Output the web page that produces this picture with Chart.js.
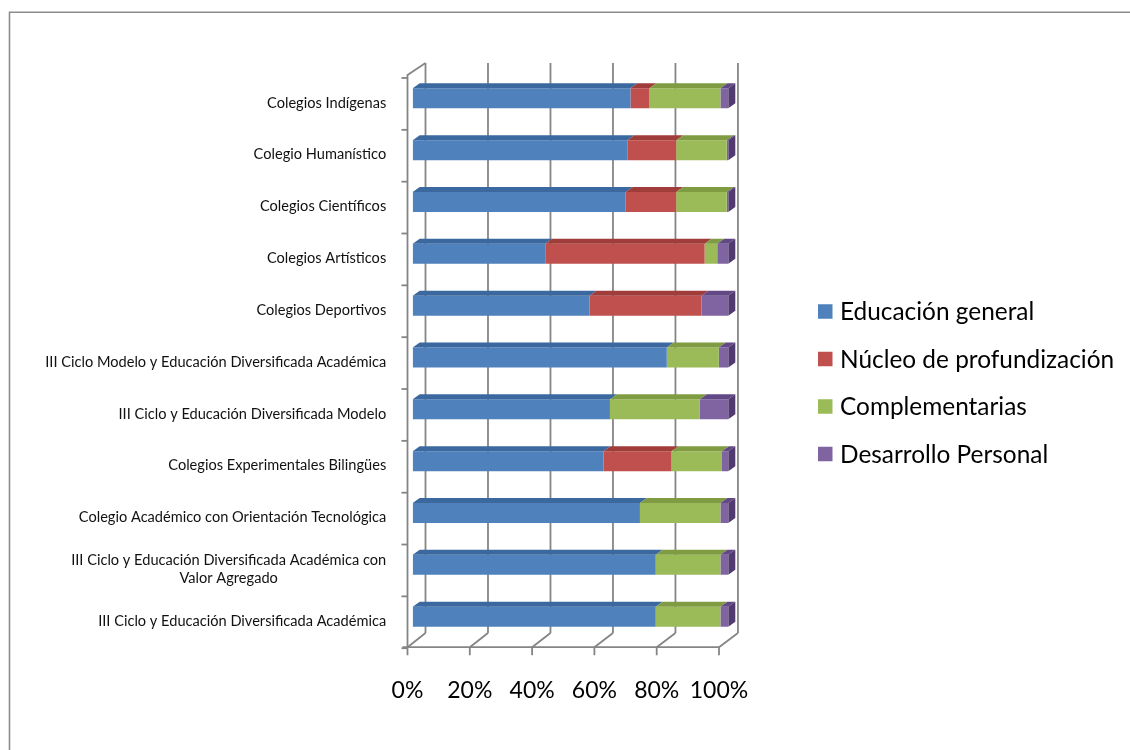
<!DOCTYPE html>
<html lang="es">
<head>
<meta charset="utf-8">
<title>Distribución del plan de estudios por modalidad</title>
<script src="https://cdn.jsdelivr.net/npm/chart.js@4.4.1/dist/chart.umd.min.js"></script>
<style>
  html, body { margin: 0; padding: 0; background: #ffffff; }
  #wrap { position: relative; width: 1130px; height: 750px; }
  canvas { display: block; }
</style>
</head>
<body>
<div id="wrap"><canvas id="chart" width="1130" height="750"></canvas></div>
<script>
// Modalidades (de arriba hacia abajo)
const categories = [
  'Colegios Indígenas',
  'Colegio Humanístico',
  'Colegios Científicos',
  'Colegios Artísticos',
  'Colegios Deportivos',
  'III Ciclo Modelo y Educación Diversificada Académica',
  'III Ciclo y Educación Diversificada Modelo',
  'Colegios Experimentales Bilingües',
  'Colegio Académico con Orientación Tecnológica',
  ['III Ciclo y Educación Diversificada Académica con', 'Valor Agregado'],
  'III Ciclo y Educación Diversificada Académica'
];

// Porcentaje del plan de estudios por componente
const educacionGeneral      = [69.0, 68.0, 67.5, 42.0, 56.0, 80.5, 62.5, 60.5, 72.0, 77.0, 77.0];
const nucleoProfundizacion  = [ 6.0, 15.5, 16.0, 50.5, 35.5,  0.0,  0.0, 21.5,  0.0,  0.0,  0.0];
const complementarias       = [22.5, 16.0, 16.0,  4.0,  0.0, 16.5, 28.5, 16.0, 25.5, 20.5, 20.5];
const desarrolloPersonal    = [ 2.5,  0.5,  0.5,  3.5,  8.5,  3.0,  9.0,  2.0,  2.5,  2.5,  2.5];

const seriesNames = ['Educación general', 'Núcleo de profundización', 'Complementarias', 'Desarrollo Personal'];
const xTickValues = [0, 20, 40, 60, 80, 100];

// Colores: cara frontal, cara superior y cara lateral de cada componente
const frontColors = ['#4f81bd', '#c0504d', '#9bbb59', '#8064a2'];
const topColors   = ['#3b689f', '#a03c3a', '#7f9c42', '#634886'];
const sideColors  = ['#2f5687', '#863130', '#6b8636', '#513a70'];

const FONT = 'Lato, "Open Sans", sans-serif';
const GRID = '#858585';

// Caja 3D: paredes, piso, rejilla, caras de las barras, rótulos y leyenda
const box3d = {
  id: 'box3d',
  beforeDatasetsDraw(chart) {
    const { ctx, chartArea: ca } = chart;
    const xs = chart.scales.x, ys = chart.scales.y;
    const L = xs.getPixelForValue(0);
    const frontX = v => L - 5.2 + (xs.getPixelForValue(v) - L) * 0.987;
    const backX  = v => L + 12.8 + (xs.getPixelForValue(v) - L) * 0.99;
    const frontTop = ca.top + 2.6, frontBottom = ca.bottom + 4.6;
    const backTop = ca.top - 9.4, backBottom = ca.bottom - 9.6;

    ctx.save();
    ctx.strokeStyle = GRID;
    ctx.lineWidth = 1.8;
    ctx.lineCap = 'butt';

    // pared izquierda
    ctx.beginPath();
    ctx.moveTo(frontX(0), frontBottom);
    ctx.lineTo(frontX(0), frontTop);
    ctx.lineTo(backX(0), backTop);
    ctx.stroke();

    // líneas de la pared del fondo
    xTickValues.forEach(v => {
      ctx.beginPath();
      ctx.moveTo(backX(v), backTop);
      ctx.lineTo(backX(v), backBottom);
      ctx.stroke();
    });

    // piso: borde frontal, diagonales y marcas
    ctx.beginPath();
    ctx.moveTo(frontX(0) - 5, frontBottom);
    ctx.lineTo(frontX(100), frontBottom);
    ctx.stroke();
    xTickValues.forEach(v => {
      ctx.beginPath();
      ctx.moveTo(frontX(v), frontBottom);
      ctx.lineTo(backX(v), backBottom);
      ctx.moveTo(frontX(v), frontBottom);
      ctx.lineTo(frontX(v), frontBottom + 8);
      ctx.stroke();
    });

    // marcas del eje de categorías en la pared izquierda
    const n = chart.data.labels.length;
    for (let k = 0; k <= n; k++) {
      const y = ys.getPixelForValue(k - 0.5) + 5.6;
      ctx.beginPath();
      ctx.moveTo(frontX(0) - 6, y);
      ctx.lineTo(frontX(0), y);
      ctx.stroke();
    }
    ctx.restore();
  },
  afterDatasetsDraw(chart) {
    const { ctx } = chart;
    const dx = 7, dy = 5;
    const n = chart.data.labels.length;
    ctx.save();
    for (let i = 0; i < n; i++) {
      let last = null;
      chart.data.datasets.forEach((ds, d) => {
        const el = chart.getDatasetMeta(d).data[i];
        if (!el) return;
        const p = el.getProps(['x', 'y', 'base', 'height'], true);
        const x0 = Math.min(p.base, p.x), x1 = Math.max(p.base, p.x);
        if (x1 - x0 < 0.01) return;
        const top = p.y - p.height / 2;
        ctx.fillStyle = topColors[d];
        ctx.beginPath();
        ctx.moveTo(x0, top);
        ctx.lineTo(x1, top);
        ctx.lineTo(x1 + dx, top - dy);
        ctx.lineTo(x0 + dx, top - dy);
        ctx.closePath();
        ctx.fill();
        last = { d, x1, top, bottom: p.y + p.height / 2 };
      });
      if (last) {
        ctx.fillStyle = sideColors[last.d];
        ctx.beginPath();
        ctx.moveTo(last.x1, last.top);
        ctx.lineTo(last.x1 + dx, last.top - dy);
        ctx.lineTo(last.x1 + dx, last.bottom - dy);
        ctx.lineTo(last.x1, last.bottom);
        ctx.closePath();
        ctx.fill();
      }
    }
    ctx.restore();
  },
  afterDraw(chart) {
    const { ctx, chartArea: ca } = chart;
    const xs = chart.scales.x, ys = chart.scales.y;
    const L = xs.getPixelForValue(0);
    const frontX = v => L - 5.2 + (xs.getPixelForValue(v) - L) * 0.987;
    ctx.save();

    // rótulos de categorías (líneas centradas entre sí, bloque alineado a la derecha)
    ctx.fillStyle = '#111111';
    ctx.font = '14.6px ' + FONT;
    ctx.textBaseline = 'middle';
    ctx.textAlign = 'center';
    const right = L - 26.5;
    chart.data.labels.forEach((lab, i) => {
      const lines = Array.isArray(lab) ? lab : [lab];
      const w = Math.max(...lines.map(s => ctx.measureText(s).width));
      const cx = right - w / 2;
      const lh = 17.5;
      const yc = ys.getPixelForValue(i) + 4.5;
      lines.forEach((s, j) => {
        ctx.fillText(s, cx, yc + (j - (lines.length - 1) / 2) * lh);
      });
    });

    // rótulos del eje de porcentajes
    ctx.fillStyle = '#000000';
    ctx.font = '23px ' + FONT;
    ctx.textAlign = 'center';
    xTickValues.forEach(v => {
      ctx.fillText(v + '%', frontX(v), ca.bottom + 48);
    });

    // leyenda
    const lx = 818, ly = 311.5, step = 47.5, sq = 14.5;
    ctx.font = '24.4px ' + FONT;
    ctx.textAlign = 'left';
    chart.data.datasets.forEach((ds, d) => {
      const y = ly + d * step;
      ctx.fillStyle = ds.backgroundColor;
      ctx.fillRect(lx, y - sq / 2, sq, sq);
      ctx.fillStyle = '#000000';
      ctx.fillText(ds.label, lx + 22, y + 1);
    });

    // marco exterior
    ctx.strokeStyle = '#8c8c8c';
    ctx.lineWidth = 1.6;
    ctx.beginPath();
    ctx.moveTo(9.5, chart.height);
    ctx.lineTo(9.5, 12.3);
    ctx.lineTo(chart.width, 12.3);
    ctx.stroke();
    ctx.restore();
  }
};

const seriesValues = [educacionGeneral, nucleoProfundizacion, complementarias, desarrolloPersonal];

new Chart(document.getElementById('chart'), {
  type: 'bar',
  data: {
    labels: categories,
    datasets: seriesValues.map((vals, d) => ({
      label: seriesNames[d],
      data: vals,
      backgroundColor: frontColors[d],
      borderWidth: 0,
      categoryPercentage: 0.386,
      barPercentage: 1
    }))
  },
  options: {
    indexAxis: 'y',
    responsive: false,
    animation: false,
    layout: { padding: { left: 412.7, right: 401.7, top: 72.4, bottom: 107.4 } },
    scales: {
      x: { stacked: true, min: 0, max: 100, display: false },
      y: { stacked: true, display: false }
    },
    plugins: {
      legend: { display: false },
      tooltip: { enabled: false }
    }
  },
  plugins: [box3d]
});
</script>
</body>
</html>
